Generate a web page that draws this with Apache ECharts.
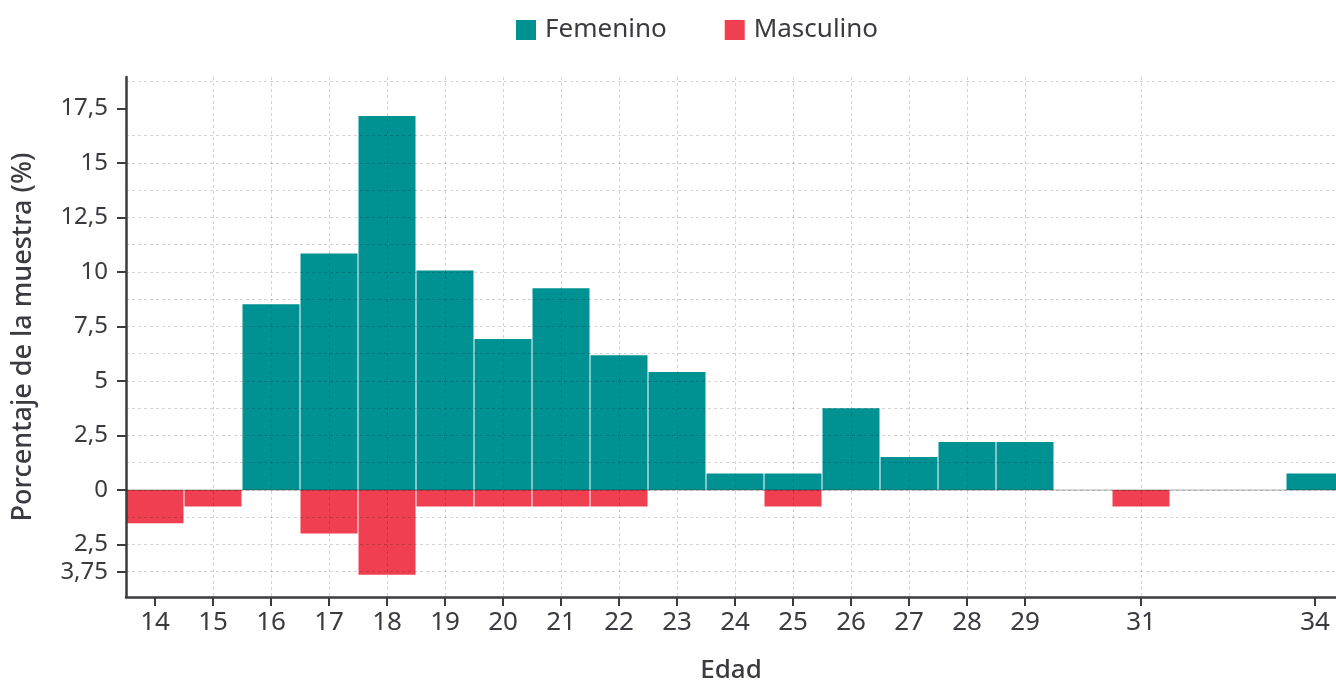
<!DOCTYPE html>
<html><head><meta charset="utf-8">
<script src="https://cdn.jsdelivr.net/npm/echarts@6/dist/echarts.min.js"></script>
<style>html,body{margin:0;padding:0;background:#fff}#c{width:1336px;height:680px}</style>
</head><body><div id="c"></div>
<script>
const ages = [14,15,16,17,18,19,20,21,22,23,24,25,26,27,28,29,31,34];
const femenino = [0,0,8.52,10.85,17.15,10.07,6.92,9.25,6.18,5.41,0.76,0.76,3.75,1.51,2.2,2.2,0,0.76];
const masculino = [1.53,0.76,0,2.0,3.89,0.76,0.76,0.76,0.76,0,0,0.76,0,0,0,0,0.76,0];
const yTickValues = [-3.75,-2.5,0,2.5,5,7.5,10,12.5,15,17.5];

const TXT = '#3a3a40';
const FONT = '"Noto Sans", sans-serif';
const gridLine = {color:'rgba(0,0,0,0.17)', type:[3,3], width:1};

const femData = ages.map((a,i)=>[a, femenino[i]]).filter(d=>d[1]>0);
const mascData = ages.map((a,i)=>[a, -masculino[i]]).filter(d=>d[1]<0);

const chart = echarts.init(document.getElementById('c'), null, {renderer:'canvas'});
chart.setOption({
  animation:false,
  textStyle:{fontFamily:FONT, color:TXT},
  legend:{
    top:12, left:511, icon:'rect', itemWidth:20, itemHeight:20, itemGap:58,
    textStyle:{fontSize:26, color:TXT, fontFamily:FONT, padding:[0,0,0,4]},
    data:['Femenino','Masculino']
  },
  grid:{left:126, right:0, top:77, bottom:83, containLabel:false, outerBoundsMode:'none'},
  xAxis:{
    type:'value', min:13.5, max:34.362, interval:0.5, z:5,
    name:'Edad', nameLocation:'middle', nameGap:61,
    nameTextStyle:{fontSize:26, fontWeight:500, color:TXT, fontFamily:FONT},
    axisLine:{show:true, onZero:false, lineStyle:{color:'#3b3b40', width:2.5}},
    axisTick:{show:true, length:9, customValues:ages, lineStyle:{color:'#3b3b40', width:2}},
    axisLabel:{customValues:ages, fontSize:26, color:TXT, margin:13, fontFamily:FONT},
    splitLine:{show:true, showMinLine:false, showMaxLine:false, lineStyle:gridLine}
  },
  yAxis:{
    type:'value', min:-4.91, max:18.94, minInterval:2.5, maxInterval:2.5, z:5,
    name:'Porcentaje de la muestra (%)', nameLocation:'middle', nameGap:89,
    nameTextStyle:{fontSize:27, fontWeight:500, color:TXT, fontFamily:FONT},
    axisLine:{show:true, lineStyle:{color:'#3b3b40', width:2.5}},
    axisTick:{show:true, length:9, customValues:yTickValues, lineStyle:{color:'#3b3b40', width:2}},
    axisLabel:{customValues:yTickValues, fontSize:24, color:TXT, margin:18, fontFamily:FONT,
      formatter:v=>String(Math.abs(v)).replace('.', ',')},
    splitLine:{show:true, showMinLine:false, showMaxLine:false, lineStyle:gridLine},
    minorTick:{show:false, splitNumber:2},
    minorSplitLine:{show:true, lineStyle:gridLine}
  },
  series:[
    {name:'Femenino', type:'bar', data:femData, barWidth:57, barGap:'-100%', z:2,
     itemStyle:{color:'#009193'},
     markLine:{silent:true, symbol:['none','none'], label:{show:false}, z:6,
       lineStyle:{color:'rgba(0,0,0,0.22)', type:'solid', width:1.5}, data:[{yAxis:0}]}},
    {name:'Masculino', type:'bar', data:mascData, barWidth:57, barGap:'-100%', z:2,
     itemStyle:{color:'#EF3F50'}}
  ]
});
</script></body></html>
